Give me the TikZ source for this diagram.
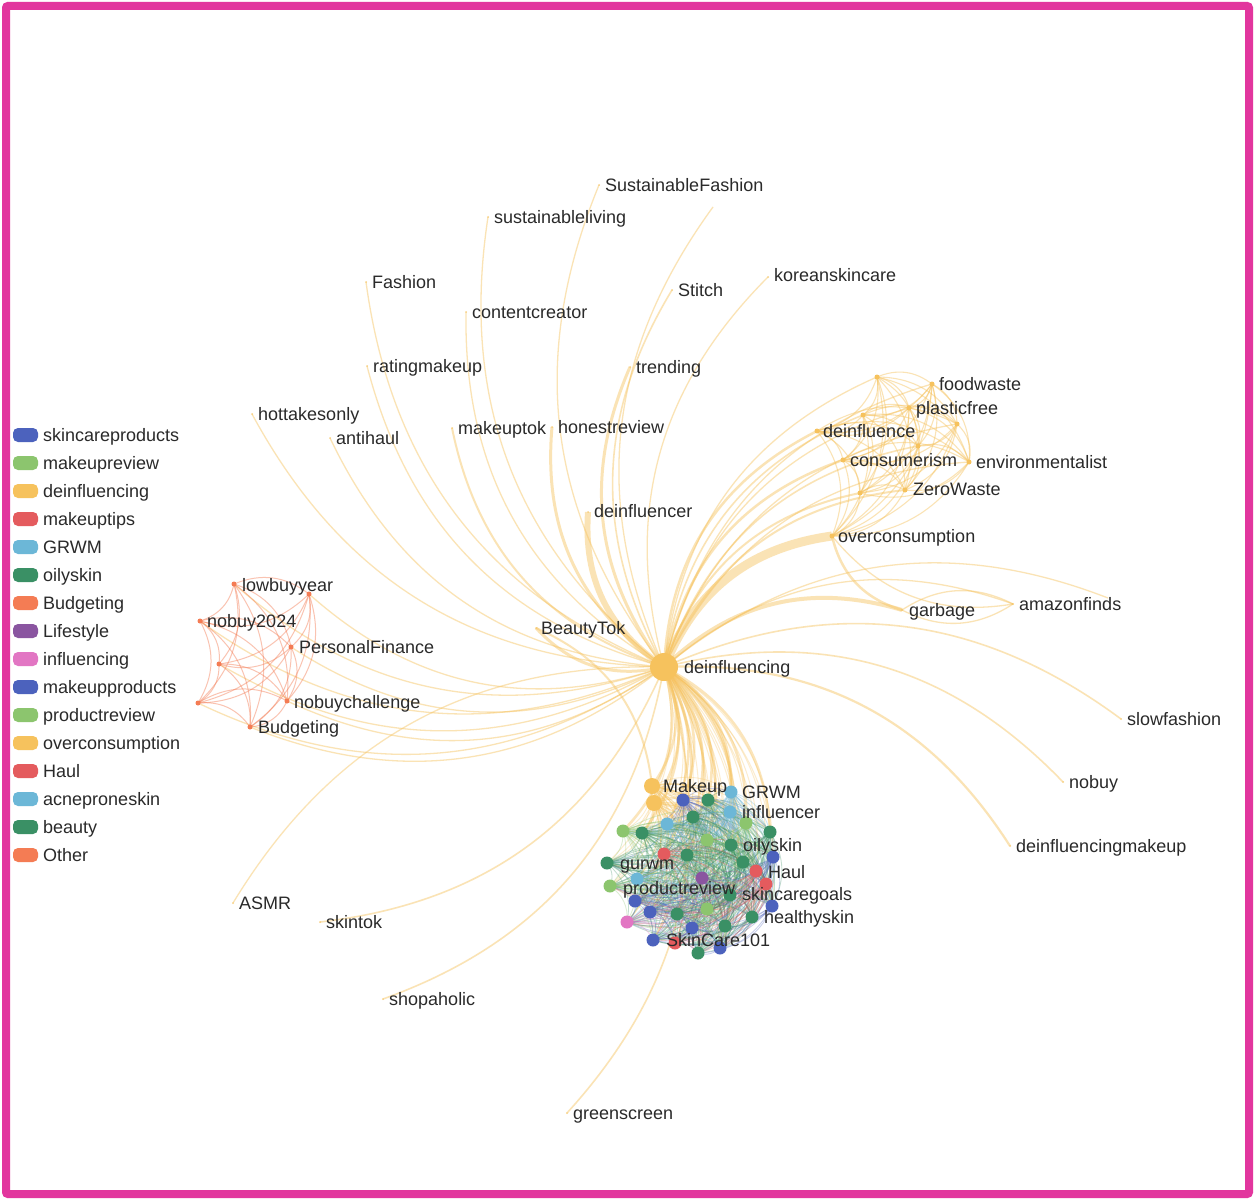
\documentclass[tikz,border=0pt]{standalone}
\usepackage{fontspec}
\setmainfont{Liberation Sans}
\definecolor{cBlue}{HTML}{4C62BD}
\definecolor{cLGreen}{HTML}{8CC56E}
\definecolor{cYellow}{HTML}{F6C25D}
\definecolor{cRed}{HTML}{E45B5E}
\definecolor{cLBlue}{HTML}{6CB7D7}
\definecolor{cGreen}{HTML}{3A9065}
\definecolor{cOrange}{HTML}{F47C54}
\definecolor{cPurple}{HTML}{8A55A0}
\definecolor{cPink}{HTML}{E276C3}
\definecolor{cText}{HTML}{2A2A2A}
\definecolor{cFrame}{HTML}{E2369E}
\pgfdeclarelayer{bgl}
\pgfdeclarelayer{edgel}
\pgfsetlayers{bgl,edgel,main}
\tikzset{
  lbl/.style={text=cText, font=\fontsize{18}{21}\selectfont, inner sep=0pt, anchor=base west},
  ndot/.style={circle, inner sep=0pt, minimum size=#1, draw=none},
  swatch/.style={rectangle, rounded corners=5pt, minimum width=25pt, minimum height=14pt, inner sep=0pt, draw=none},
  yedge/.style={draw=cYellow, draw opacity=0.45, line width=1.3pt},
  cedge/.style={draw=cYellow, draw opacity=0.45, line width=1.1pt},
  redge/.style={draw=cOrange, draw opacity=0.45, line width=1pt},
  medge/.style={draw opacity=0.3, line width=0.85pt},
}
\begin{document}
\begin{tikzpicture}[x=1pt,y={(0pt,-1pt)}]
\useasboundingbox (0,0) rectangle (1256,1201);
\begin{pgfonlayer}{bgl}
\fill[white] (0,0) rectangle (1256,1201);
\end{pgfonlayer}

% ---------- hub ----------
\node[ndot=28pt, fill=cYellow] (hub) at (664,667) {};
\node[lbl] (Lhub) at (684,673.5) {deinfluencing};

% ---------- leaf nodes ----------
\foreach \nm/\x/\y in {sf/599/185, sl/488/217, fa/366/282, ks/768/277, st/672/290, cc/466/312,
  rm/367/366, tr/630/367, ho/252/414, ah/330/438, mt/452/428, hr/552/427, di/588/512,
  bt/536/628, as/233/903, sk/320/922, sh/383/999, gs/567/1113, sw/1121/719, nb/1063/782,
  dm/1010/846, af/1013/604, gb/902/610}{
  \node[ndot=2pt, fill=cYellow, fill opacity=0.7] (\nm) at (\x,\y) {};
}
\coordinate (u1) at (713,207);
\coordinate (u2) at (1108,598);

\foreach \nm/\x/\y/\t in {sf/605/185/SustainableFashion, sl/494/217/sustainableliving,
  fa/372/282/Fashion, ks/774/275/koreanskincare, st/678/290/Stitch, cc/472/312/contentcreator,
  rm/373/366/ratingmakeup, tr/636/367/trending, ho/258/414/hottakesonly, ah/336/438/antihaul,
  mt/458/428/makeuptok, hr/558/427/honestreview, di/594/511/deinfluencer, bt/541/628/BeautyTok,
  as/239/903/ASMR, sk/326/922/skintok, sh/389/999/shopaholic, gs/573/1113/greenscreen,
  sw/1127/719/slowfashion, nb/1069/782/nobuy, dm/1016/846/deinfluencingmakeup,
  af/1019/604/amazonfinds, gb/909/610/garbage}{
  \node[lbl] (L\nm) at (\x,\y+6.5) {\t};
}

% ---------- top-right cluster ----------
\foreach \x/\y [count=\n] in {877/377, 932/384, 863/415, 909/408, 817/431, 957/424,
  918/446, 843/460, 969/462, 860/493, 905/490, 832/536}{
  \node[ndot=5pt, fill=cYellow] (c\n) at (\x,\y) {};
}

% ---------- red cluster ----------
\foreach \x/\y [count=\n] in {234/584, 309/594, 200/621, 291/647, 219/664, 198/703, 287/701, 250/727}{
  \node[ndot=5pt, fill=cOrange] (r\n) at (\x,\y) {};
}
\foreach \nm/\x/\y/\t in {r1/242/585/lowbuyyear, r3/207/621/nobuy2024, r4/299/647/PersonalFinance,
  r7/294/702/nobuychallenge, r8/258/727/Budgeting}{
  \node[lbl] (L\nm) at (\x,\y+6.5) {\t};
}

% ---------- bottom cluster ----------
\foreach \x/\y/\c/\s [count=\n] in {652/786/cYellow/16, 654/803/cYellow/16, 683/800/cBlue/13,
  708/800/cGreen/13, 731/792/cLBlue/13, 730/812/cLBlue/13, 693/817/cGreen/13, 667/824/cLBlue/13,
  746/823/cLGreen/13, 623/831/cLGreen/13, 642/833/cGreen/13, 770/832/cGreen/13, 707/840/cLGreen/13,
  731/845/cGreen/13, 664/854/cRed/13, 687/855/cGreen/13, 773/857/cBlue/13, 607/863/cGreen/13,
  743/862/cGreen/13, 756/871/cRed/13, 637/879/cLBlue/13, 702/878/cPurple/13, 766/884/cRed/13,
  610/886/cLGreen/13, 730/895/cGreen/13, 635/901/cBlue/13, 650/912/cBlue/13, 707/909/cLGreen/13,
  772/906/cBlue/13, 677/914/cGreen/13, 752/917/cGreen/13, 627/922/cPink/13, 725/926/cGreen/13,
  692/928/cBlue/13, 653/940/cBlue/13, 675/943/cRed/13, 720/948/cBlue/13, 698/953/cGreen/13}{
  \node[ndot=\s pt, fill=\c] (b\n) at (\x,\y) {};
  \expandafter\xdef\csname bcol\n\endcsname{\c}
}

% ---------- cluster labels ----------
\foreach \nm/\x/\y/\t in {c2/939/384/foodwaste, c4/916/408/plasticfree, c5/823/431/deinfluence,
  c8/850/460/consumerism, c9/976/462/environmentalist, c11/913/489/ZeroWaste,
  c12/838/536/overconsumption,
  b1/663/786/Makeup, b5/742/792/GRWM, b6/742/812/influencer, b14/743/845/oilyskin,
  b18/620/863/gurwm, b20/768/872/Haul, b24/623/888/productreview, b25/742/894/skincaregoals,
  b31/764/917/healthyskin, b35/666/940/SkinCare101}{
  \node[lbl] (L\nm) at (\x,\y+6.5) {\t};
}

% ---------- edges ----------
\begin{pgfonlayer}{edgel}
% hub to leaves
\foreach \t/\w in {sf/1.3, sl/1.3, fa/1.3, ks/1.3, st/1.6, cc/1.3, rm/1.3, tr/3, ho/1.3, ah/1.3,
  mt/2, hr/3, di/6, bt/3, sk/1.6, sh/1.6, gs/1.6, sw/1.6, nb/1.6, dm/2.2, af/1.3, gb/4, u1/1.3, u2/1.3}{
  \draw[yedge, line width=\w pt] (hub.center) to[bend left=30] (\t.center);
}
\draw[yedge] (hub.center) to[bend right=30] (as.center);
\draw[yedge, line width=2pt] (bt.center) to[bend left=30] (b1.center);
% hub to top-right cluster
\foreach \k/\w in {1/1.3, 2/1.3, 3/1.6, 4/1.3, 5/2.5, 6/1.3, 7/1.6, 8/2.5, 9/1.3, 10/2, 11/2, 12/9}{
  \draw[yedge, line width=\w pt] (hub.center) to[bend left=30] (c\k.center);
}
\draw[yedge, line width=2.5pt] (gb.center) to[bend left=30] (c12.center);
\draw[yedge] (af.center) to[bend left=30] (c12.center);
\draw[yedge] (gb.center) to[bend left=30] (af.center);
\draw[yedge] (af.center) to[bend left=30] (gb.center);
% top-right mesh
\foreach \i in {1,...,11}{
  \pgfmathtruncatemacro{\jst}{\i+1}
  \foreach \j in {\jst,...,12}{
    \draw[cedge] (c\i.center) to[bend left=30] (c\j.center);
  }
}
% hub to red cluster
\foreach \k in {1,...,8}{
  \draw[yedge] (hub.center) to[bend left=30] (r\k.center);
}
% red mesh
\foreach \i in {1,...,7}{
  \pgfmathtruncatemacro{\jst}{\i+1}
  \foreach \j in {\jst,...,8}{
    \draw[redge] (r\i.center) to[bend left=30] (r\j.center);
  }
}
% hub to bottom cluster
\foreach \k in {1,...,16}{
  \draw[yedge, line width=2.6pt, draw opacity=0.42] (hub.center) to[bend left=30] (b\k.center);
}
\foreach \k in {17,...,38}{
  \draw[yedge, line width=1pt, draw opacity=0.3] (hub.center) to[bend left=30] (b\k.center);
}
% bottom mesh
\foreach \i in {1,...,37}{
  \pgfmathtruncatemacro{\jst}{\i+1}
  \edef\cc{\csname bcol\i\endcsname}
  \foreach \j in {\jst,...,38}{
    \draw[medge, draw=\cc] (b\i.center) to[bend left=30] (b\j.center);
  }
}
\end{pgfonlayer}

% ---------- legend ----------
\foreach \t/\c [count=\k from 0] in {skincareproducts/cBlue, makeupreview/cLGreen,
  deinfluencing/cYellow, makeuptips/cRed, GRWM/cLBlue, oilyskin/cGreen, Budgeting/cOrange,
  Lifestyle/cPurple, influencing/cPink, makeupproducts/cBlue, productreview/cLGreen,
  overconsumption/cYellow, Haul/cRed, acneproneskin/cLBlue, beauty/cGreen, Other/cOrange}{
  \node[swatch, fill=\c] (S\k) at (25.5,435+28*\k) {};
  \node[lbl] (T\k) at (43,441.5+28*\k) {\t};
}

% ---------- frame ----------
\draw[cFrame, line width=8pt, rounded corners=2pt] (6,6) rectangle (1249,1194);
\end{tikzpicture}
\end{document}
